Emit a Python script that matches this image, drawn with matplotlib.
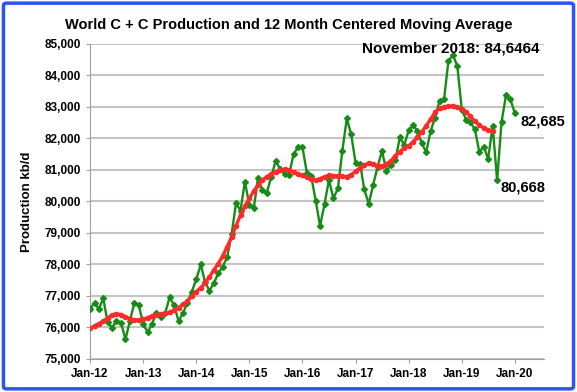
import numpy as np
import pandas as pd
import matplotlib
matplotlib.use("Agg")
import matplotlib.pyplot as plt
from matplotlib.patches import FancyBboxPatch

plt.rcParams['font.family'] = ['Liberation Sans', 'DejaVu Sans']

# monthly World C+C production, kb/d, Jan 2012 - Jan 2020
months = pd.date_range('2012-01-01', '2020-01-01', freq='MS')
production = [
    76580, 76790, 76580, 76930, 76165, 75995, 76217, 76153, 75625, 76200, 76787, 76714,
    76101, 75848, 76101, 76451, 76344, 76451, 76958, 76714, 76206, 76451, 76787, 77140,
    77530, 78006, 77455, 77169, 77402, 77720, 77931, 78228, 78968, 79942, 79709, 80630,
    79889, 79804, 80735, 80365, 80280, 80788, 81296, 81021, 80873, 80841, 81508, 81720,
    81730, 80894, 80810, 80026, 79222, 79921, 80683, 80101, 80418, 81603, 82640, 82132,
    81212, 81190, 80386, 79921, 80524, 81106, 81603, 80968, 81159, 81317, 82037, 81794,
    82260, 82424, 82238, 81847, 81561, 82249, 82661, 83201, 83254, 84465, 84646, 84302,
    82905, 82587, 82513, 82291, 81581, 81740, 81349, 82397, 80668, 82513, 83381, 83243,
    82800,
]

# 12 month centered moving average (ends Aug 2019)
cma = [
    75970, 76050, 76120, 76200, 76300, 76400, 76435, 76410, 76340, 76280, 76245, 76235,
    76255, 76316, 76357, 76398, 76430, 76450, 76480, 76540, 76630, 76735, 76837, 77000,
    77138, 77265, 77414, 77605, 77817, 78030, 78263, 78560, 78879, 79229, 79569, 79856,
    80100, 80333, 80524, 80684, 80790, 80875, 80938, 80991, 81021, 81000, 80938, 80864,
    80825, 80766, 80702, 80681, 80723, 80787, 80830, 80819, 80809, 80798, 80787, 80851,
    80957, 81074, 81160, 81213, 81191, 81138, 81117, 81181, 81298, 81447, 81585, 81691,
    81766, 81888, 82043, 82213, 82404, 82617, 82830, 82957, 83000, 83021, 83032, 83000,
    82926, 82830, 82702, 82553, 82426, 82330, 82266, 82234,
]

tick_years = [2012 + i for i in range(9)]
tick_labels = ['Jan-%02d' % (y % 100) for y in tick_years]

fig = plt.figure(figsize=(5.77, 3.92), dpi=100)
ax = fig.add_axes([0.156, 0.0842, 0.787, 0.8036])

ax.plot(months, production, color='#168c16', lw=1.7, marker='D', ms=3, zorder=3)
ax.plot(months[:len(cma)], cma, color='#ff2a2a', lw=2.4, marker='o', ms=3, zorder=4)

ax.set_ylim(75000, 85000)
ax.set_yticks(np.arange(75000, 85001, 1000))
ax.yaxis.set_major_formatter(matplotlib.ticker.FuncFormatter(lambda v, p: '{:,.0f}'.format(v)))
ax.set_xlim(pd.Timestamp('2012-01-01'), pd.Timestamp('2020-07-20'))
ax.set_xticks([pd.Timestamp('%d-01-01' % y) for y in tick_years])
ax.set_xticklabels(tick_labels)

ax.grid(axis='y', color='#c4c4c4', lw=1.5)
ax.set_axisbelow(True)
for s in ['top', 'right']:
    ax.spines[s].set_visible(False)
for s in ['left', 'bottom']:
    ax.spines[s].set_color('#a0a0a0')
ax.tick_params(colors='#a0a0a0', length=3, labelcolor='black', labelsize=8.5)
for lab in ax.get_xticklabels() + ax.get_yticklabels():
    lab.set_fontweight('bold')

ax.set_ylabel('Production kb/d', fontsize=9.5, fontweight='bold', labelpad=8)
fig.text(0.5, 0.935, 'World C + C Production and 12 Month Centered Moving Average',
         ha='center', va='center', fontsize=10.5, fontweight='bold')

ax.text(pd.Timestamp('2017-02-15'), 84870, 'November 2018: 84,6464', fontsize=11,
        fontweight='bold', va='center')
ax.text(pd.Timestamp('2020-02-10'), 82550, '82,685', fontsize=10.5, fontweight='bold', va='center')
ax.text(pd.Timestamp('2019-09-25'), 80450, '80,668', fontsize=10.5, fontweight='bold', va='center')

fig.patches.append(FancyBboxPatch((0.006, 0.008), 0.988, 0.984, boxstyle='round,pad=0,rounding_size=0.006',
                                  transform=fig.transFigure, fill=False, edgecolor='#2a55f2', lw=2.5))

fig.savefig('out.png', dpi=100)
